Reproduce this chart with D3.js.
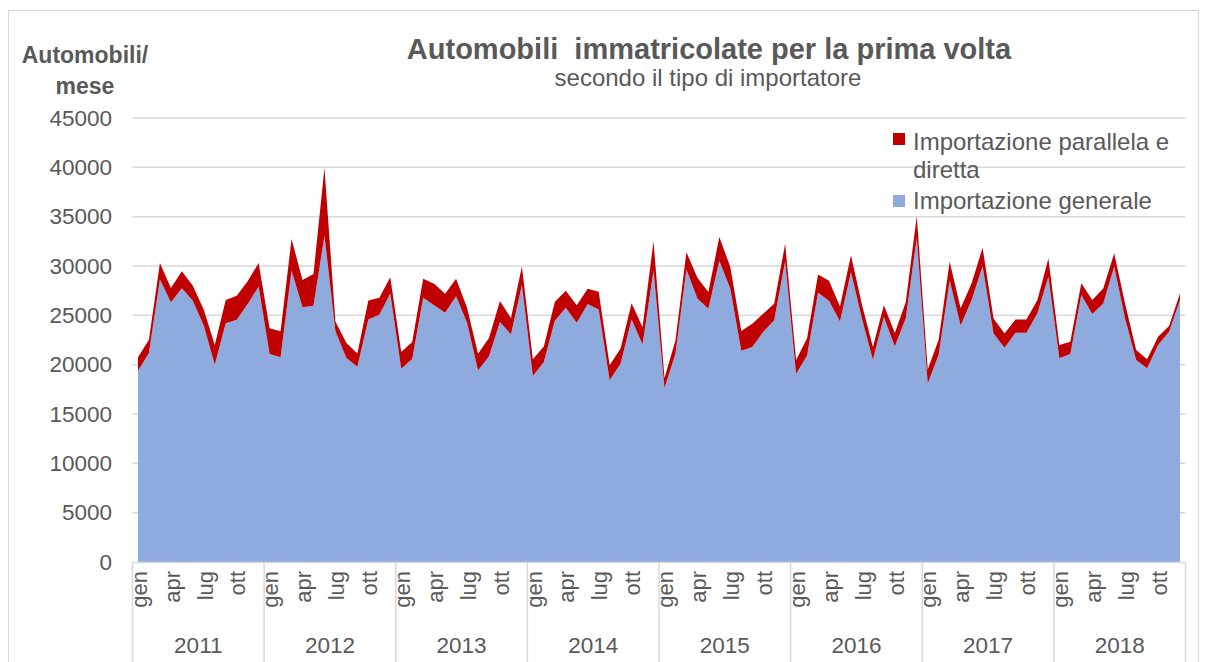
<!DOCTYPE html>
<html>
<head>
<meta charset="utf-8">
<script src="https://cdn.jsdelivr.net/npm/d3@7"></script>
<style>
  html, body { margin: 0; padding: 0; background: #ffffff; }
  svg { display: block; font-family: "Liberation Sans", Arial, sans-serif; }
</style>
</head>
<body>
<svg id="chart" width="1206" height="662"></svg>
<script>
// ---- Data ----
const years = ["2011", "2012", "2013", "2014", "2015", "2016", "2017", "2018"];
const monthLabels = ["gen", "", "", "apr", "", "", "lug", "", "", "ott", "", ""];
const yTicks = [0, 5000, 10000, 15000, 20000, 25000, 30000, 35000, 40000, 45000];
const seriesNames = ["Importazione parallela e diretta", "Importazione generale"];

// Importazione generale (monthly, Jan 2011 - Dec 2018)
const generale = [
  19390, 21180, 28620, 26320, 27740, 26490, 23950, 20000, 24190, 24560, 26150, 27910,
  21080, 20740, 29530, 25810, 25980, 33070, 23390, 20670, 19790, 24590, 25050, 27210,
  19590, 20570, 26770, 26010, 25250, 26940, 24240, 19420, 20860, 24320, 23070, 28070,
  18850, 20260, 24450, 25760, 24250, 26150, 25590, 18410, 20130, 24580, 22050, 29550,
  17600, 21110, 29650, 26700, 25670, 30520, 27700, 21420, 21790, 23300, 24490, 30480,
  19090, 20940, 27280, 26480, 24370, 29390, 24660, 20490, 24830, 21840, 24740, 32850,
  18100, 21030, 28540, 23980, 26545, 29970, 23170, 21720, 23230, 23230, 25200, 28910,
  20640, 21070, 27050, 25130, 26210, 29920, 24630, 20470, 19630, 21990, 23330, 26545
];
// Importazione parallela e diretta (monthly)
const parallela = [
  1350, 1350, 1680, 1450, 1720, 1520, 1620, 1990, 2360, 2430, 2300, 2400,
  2600, 2640, 3210, 2770, 3210, 6860, 980, 1520, 1340, 1910, 1740, 1650,
  1690, 1720, 1940, 2200, 1940, 1770, 1520, 1690, 1850, 2130, 1640, 1890,
  1700, 1590, 1900, 1730, 1760, 1550, 1810, 1520, 1520, 1650, 1750, 2950,
  1050, 1350, 1750, 2100, 1690, 2410, 2200, 2000, 2360, 1870, 1690, 1780,
  1380, 1730, 1870, 2030, 1520, 1690, 1440, 1300, 1180, 1380, 1610, 2230,
  1410, 1520, 1890, 1740, 1700, 1870, 1520, 1450, 1360, 1360, 1350, 1860,
  1350, 1250, 1190, 1415, 1520, 1360, 1520, 1010, 910, 840, 580, 680
];

// ---- Build ----
const svg = d3.select("#chart");
const W = 1206, H = 662;
const textColor = "#595959";
const gridColor = "#d9d9d9";
const colBlue = "#8faadc";
const colRed = "#c00000";

const plotLeft = 132.5, plotRight = 1185.5, plotTop = 118, plotBottom = 562;

// outer frame
svg.append("rect")
  .attr("x", 8.5).attr("y", 10.5)
  .attr("width", 1190).attr("height", 680)
  .attr("fill", "none").attr("stroke", gridColor).attr("stroke-width", 1);

const nMonths = years.length * 12;
const idx = d3.range(nMonths);
const x = d3.scaleBand().domain(idx).range([plotLeft, plotRight]).padding(0);
const y = d3.scaleLinear().domain([0, 45000]).range([plotBottom, plotTop]);

// gridlines
svg.append("g").selectAll("line").data(yTicks.slice(1)).join("line")
  .attr("x1", plotLeft).attr("x2", plotRight)
  .attr("y1", d => y(d)).attr("y2", d => y(d))
  .attr("stroke", gridColor).attr("stroke-width", 1.5);

// y axis labels
const yAxis = d3.axisLeft(y).tickValues(yTicks).tickSize(0).tickPadding(0).tickFormat(d3.format("d"));
const gy = svg.append("g").attr("transform", "translate(112,0)").call(yAxis);
gy.select(".domain").remove();
gy.selectAll("text").attr("fill", textColor).style("font-size", "22.5px")
  .style("font-family", "'Liberation Sans', Arial, sans-serif");

// stacked areas
const rows = idx.map(i => ({ i, generale: generale[i], parallela: parallela[i] }));
const stack = d3.stack().keys(["generale", "parallela"]);
const layers = stack(rows);
const area = d3.area()
  .x(d => x(d.data.i) + x.bandwidth() / 2)
  .y0(d => y(d[0]))
  .y1(d => y(d[1]));
const fills = { generale: colBlue, parallela: colRed };
svg.append("g").selectAll("path").data(layers).join("path")
  .attr("d", area)
  .attr("fill", d => fills[d.key]);

// x axis: line, year dividers, month labels, year labels
svg.append("line")
  .attr("x1", plotLeft).attr("x2", plotRight)
  .attr("y1", plotBottom + 0.5).attr("y2", plotBottom + 0.5)
  .attr("stroke", gridColor).attr("stroke-width", 1.5);

const yearEdges = d3.range(years.length + 1).map(k => k === years.length ? plotRight : x(k * 12));
svg.append("g").selectAll("line").data(yearEdges).join("line")
  .attr("x1", d => d).attr("x2", d => d)
  .attr("y1", plotBottom).attr("y2", H)
  .attr("stroke", gridColor).attr("stroke-width", 1.5);

const gm = svg.append("g");
idx.forEach(i => {
  const lab = monthLabels[i % 12];
  if (!lab) return;
  const cx = x(i) + x.bandwidth() / 2 + 1;
  gm.append("text")
    .attr("transform", `translate(${cx},571) rotate(-90)`)
    .attr("text-anchor", "end")
    .attr("dy", "0.35em")
    .attr("fill", textColor)
    .style("font-size", "22px")
    .text(lab);
});

svg.append("g").selectAll("text").data(years).join("text")
  .attr("x", (d, k) => x(k * 12) + x.bandwidth() * 6)
  .attr("y", 653)
  .attr("text-anchor", "middle")
  .attr("fill", textColor)
  .style("font-size", "22.5px")
  .text(d => d);

// titles
svg.append("text").attr("x", 709).attr("y", 59).attr("text-anchor", "middle")
  .attr("fill", textColor).style("font-size", "29px").style("font-weight", "bold")
  .attr("xml:space", "preserve")
  .text("Automobili  immatricolate per la prima volta");
svg.append("text").attr("x", 708).attr("y", 86).attr("text-anchor", "middle")
  .attr("fill", textColor).style("font-size", "24px")
  .text("secondo il tipo di importatore");

// y axis title
svg.append("text").attr("x", 85).attr("y", 63).attr("text-anchor", "middle")
  .attr("fill", textColor).style("font-size", "23px").style("font-weight", "bold")
  .text("Automobili/");
svg.append("text").attr("x", 85).attr("y", 94).attr("text-anchor", "middle")
  .attr("fill", textColor).style("font-size", "23px").style("font-weight", "bold")
  .text("mese");

// legend
const lg = svg.append("g");
lg.append("rect").attr("x", 893).attr("y", 133).attr("width", 12).attr("height", 12).attr("fill", colRed);
lg.append("text").attr("x", 913).attr("y", 150).attr("fill", textColor).style("font-size", "24px")
  .text("Importazione parallela e");
lg.append("text").attr("x", 913).attr("y", 178).attr("fill", textColor).style("font-size", "24px")
  .text("diretta");
lg.append("rect").attr("x", 893).attr("y", 195).attr("width", 12).attr("height", 12).attr("fill", colBlue);
lg.append("text").attr("x", 913).attr("y", 209).attr("fill", textColor).style("font-size", "24px")
  .text("Importazione generale");
</script>
</body>
</html>
